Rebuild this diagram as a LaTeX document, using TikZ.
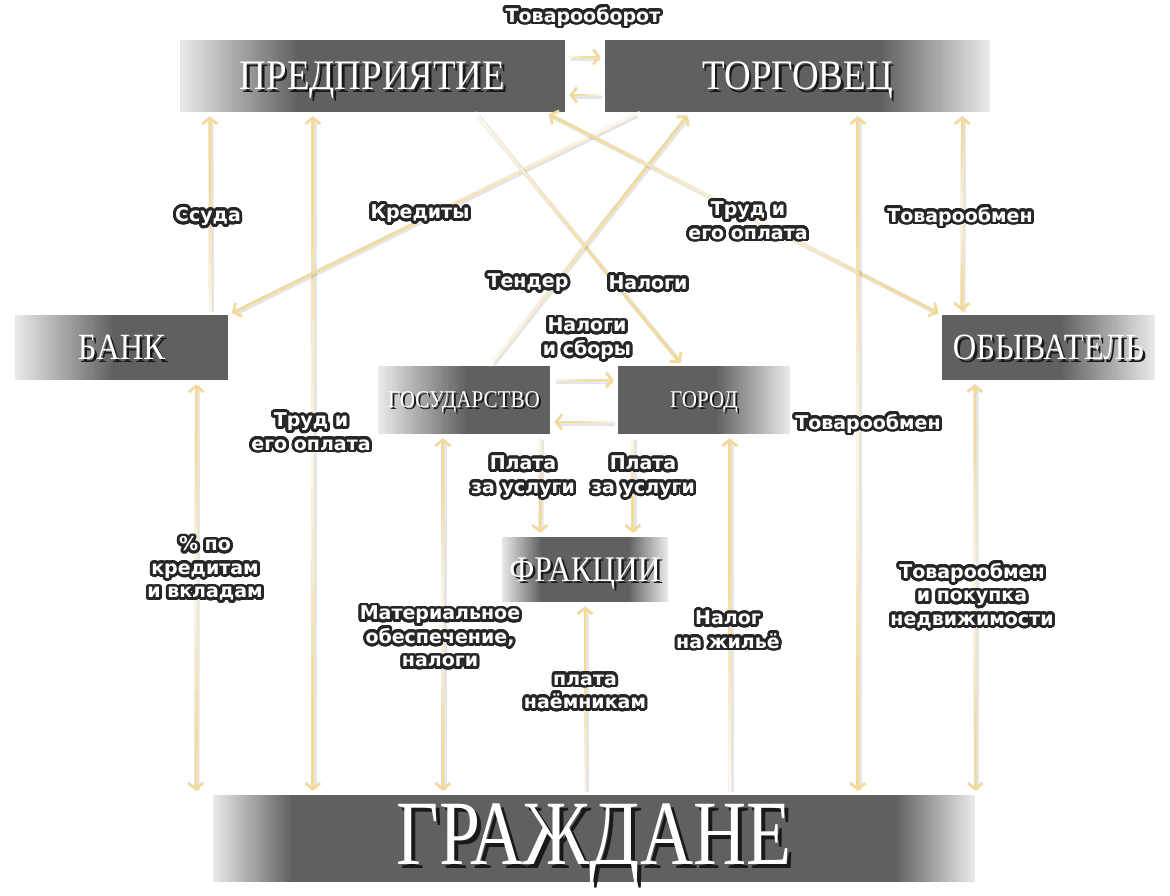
\documentclass[tikz,border=0pt]{standalone}
\usepackage{fontspec}
\usepackage[copies]{contour}
\usetikzlibrary{arrows.meta,calc}
\newfontfamily\unitfont{Liberation Serif}[FakeStretch=0.88]
\newfontfamily\citfont{Liberation Serif}[FakeStretch=0.8]
\newfontfamily\lblfont{DejaVu Sans}
\definecolor{boxgray}{HTML}{606060}
\definecolor{fadegray}{HTML}{E8E8E8}
\definecolor{wheat}{HTML}{F2DA9C}
\definecolor{halo}{HTML}{262626}
\contourlength{2.8pt}
\contournumber{36}
\newcommand\shtext[2][2.5pt]{\leavevmode\rlap{\kern#1\raisebox{-#1}{\textcolor{black!90}{#2}}}#2}
\newcommand\halo[1]{\contour{halo}{#1}}
\tikzset{
  unit/.style={fill=boxgray, inner sep=0pt, text=white, text depth=0pt, font=\unitfont\fontsize{#1}{#1}\selectfont},
  fadel/.style={path picture={
      \foreach \i in {0,...,39} {
        \pgfmathsetmacro\pa{#1*\i/40}
        \pgfmathsetmacro\pb{#1*(\i+1)/40+0.6}
        \pgfmathtruncatemacro\mix{100*\i/39}
        \fill[boxgray!\mix!fadegray] ([xshift=\pa pt]path picture bounding box.south west) rectangle ([xshift=\pb pt]path picture bounding box.north west);
      }}},
  fader/.style={path picture={
      \foreach \i in {0,...,39} {
        \pgfmathsetmacro\pa{-#1*\i/40}
        \pgfmathsetmacro\pb{-#1*(\i+1)/40-0.6}
        \pgfmathtruncatemacro\mix{100*\i/39}
        \fill[boxgray!\mix!fadegray] ([xshift=\pa pt]path picture bounding box.south east) rectangle ([xshift=\pb pt]path picture bounding box.north east);
      }}},
  fadeb/.style={path picture={
      \foreach \i in {0,...,39} {
        \pgfmathsetmacro\pa{#1*\i/40}
        \pgfmathsetmacro\pb{#1*(\i+1)/40+0.6}
        \pgfmathtruncatemacro\mix{100*\i/39}
        \fill[boxgray!\mix!fadegray] ([xshift=\pa pt]path picture bounding box.south west) rectangle ([xshift=\pb pt]path picture bounding box.north west);
        \fill[boxgray!\mix!fadegray] ([xshift=-\pa pt]path picture bounding box.south east) rectangle ([xshift=-\pb pt]path picture bounding box.north east);
      }}},
  flow/.style={draw=wheat, line width=2.8pt, shorten >=4pt, shorten <=4pt},
  flowwhite/.style={draw=white, line width=2.8pt},
  flowshade/.style={draw=black, opacity=0.1, line width=4.5pt, shorten >=6pt, shorten <=4pt, transform canvas={xshift=1.5pt, yshift=-1.5pt}},
  lbl/.style={inner sep=0pt, align=center, text=white, font=\lblfont\bfseries\fontsize{19}{23.5}\selectfont}
}
\begin{document}
\begin{tikzpicture}[x=1pt, y=-1pt, line cap=butt, >={Straight Barb[length=6pt,width=15pt]}]
  \fill[white] (0,0) rectangle (1170,896);
  \useasboundingbox (0,0) rectangle (1170,896);
  \def\flowone#1#2{
    \draw[flowshade] (#1) -- (#2);
    \draw[flow,->] (#1) -- (#2);
    \foreach \k in {0,...,11} {
      \pgfmathsetmacro\op{0.85*(1-\k/12)}
      \draw[flowwhite, opacity=\op] ($(#1)!\k*0.05!(#2)$) -- ($(#1)!\k*0.05+0.05!(#2)$);
    }
  }
  \def\flowtwo#1#2{
    \draw[flowshade] (#1) -- (#2);
    \draw[flow,<->] (#1) -- (#2);
    \foreach \k in {3,...,16} {
      \pgfmathsetmacro\op{max(0,0.8*(1-abs(\k*0.05+0.025-0.5)/0.375))}
      \draw[flowwhite, opacity=\op] ($(#1)!\k*0.05!(#2)$) -- ($(#1)!\k*0.05+0.05!(#2)$);
    }
  }

  % units
  \node[unit=42, minimum width=385pt, minimum height=72pt, fadel=120] (firm) at (372.5,76) {\shtext{ПРЕДПРИЯТИЕ}};
  \node[unit=42, minimum width=385pt, minimum height=72pt, fader=110] (trader) at (797.5,76) {\shtext{ТОРГОВЕЦ}};
  \node[unit=37, minimum width=213pt, minimum height=65pt, fadel=100] (bank) at (121.5,347.5) {\shtext{БАНК}};
  \node[unit=37, minimum width=213pt, minimum height=65pt, fader=95] (dweller) at (1048.5,347.5) {\shtext{ОБЫВАТЕЛЬ}};
  \node[unit=24, minimum width=172pt, minimum height=68pt, fadel=90] (state) at (464,400) {\shtext[2pt]{ГОСУДАРСТВО}};
  \node[unit=24, minimum width=172pt, minimum height=68pt, fader=75] (city) at (704,400) {\shtext[2pt]{ГОРОД}};
  \node[unit=36, minimum width=166pt, minimum height=65pt, fadeb=40] (faction) at (585,569.5) {\shtext{ФРАКЦИИ}};
  \node[fill=boxgray, inner sep=0pt, text=white, text depth=9pt, font=\citfont\fontsize{92}{92}\selectfont,
        minimum width=762pt, minimum height=87pt, fadeb=80] (citizens) at (594,838.5) {\shtext[4pt]{ГРАЖДАНЕ}};

  % flows
  \flowone{[yshift=19pt]firm.east}{[yshift=19pt]trader.west}
  \flowone{[yshift=-19pt]trader.west}{[yshift=-19pt]firm.east}
  \flowone{[xshift=-18pt]bank.north east}{[xshift=30pt]firm.south west}
  \flowtwo{[xshift=133pt]firm.south west}{[xshift=100pt]citizens.north west}
  \flowone{[xshift=35pt]trader.south west}{bank.north east}
  \flowone{[xshift=295pt]firm.south west}{[xshift=65pt]city.north west}
  \flowone{[xshift=112pt]state.north west}{[xshift=85pt]trader.south west}
  \flowtwo{[xshift=-20pt]firm.south east}{dweller.north west}
  \flowtwo{[xshift=20pt]dweller.north west}{[xshift=-28pt]trader.south east}
  \flowtwo{[xshift=253pt]trader.south west}{[xshift=645pt]citizens.north west}
  \flowtwo{[xshift=-32pt]bank.south east}{[xshift=-17pt]citizens.north west}
  \flowtwo{[xshift=65pt]state.south west}{[xshift=230pt]citizens.north west}
  \flowone{[xshift=-9pt]citizens.north}{faction.south}
  \flowone{[xshift=517pt]citizens.north west}{[xshift=112pt]city.south west}
  \flowtwo{[xshift=33pt]dweller.south west}{citizens.north east}
  \flowone{[xshift=-10pt]state.south east}{[xshift=38pt]faction.north west}
  \flowone{[xshift=15pt]city.south west}{[xshift=131pt]faction.north west}
  \flowone{[yshift=20pt]state.east}{[yshift=20pt]city.west}
  \flowone{[yshift=-22pt]city.west}{[yshift=-22pt]state.east}

  % labels
  \node[lbl] (turnover) at (583,18) {\halo{Товарооборот}};
  \node[lbl] (loan) at (208,218) {\halo{Ссуда}};
  \node[lbl] (credits) at (420,215) {\halo{Кредиты}};
  \node[lbl] (labourb) at (748,222) {\halo{Труд и}\\\halo{его оплата}};
  \node[lbl] (barterb) at (960,218) {\halo{Товарообмен}};
  \node[lbl] (tender) at (528,284) {\halo{Тендер}};
  \node[lbl] (taxes) at (648,284) {\halo{Налоги}};
  \node[lbl] (levies) at (587,340) {\halo{Налоги}\\\halo{и сборы}};
  \node[lbl] (laboura) at (311,433) {\halo{Труд и}\\\halo{его оплата}};
  \node[lbl] (bartera) at (868,425) {\halo{Товарообмен}};
  \node[lbl] (servicea) at (523,478) {\halo{Плата}\\\halo{за услуги}};
  \node[lbl] (serviceb) at (643,478) {\halo{Плата}\\\halo{за услуги}};
  \node[lbl] (interest) at (205,570) {\halo{\% по}\\\halo{кредитам}\\\halo{и вкладам}};
  \node[lbl] (supply) at (440,638) {\halo{Материальное}\\\halo{обеспечение,}\\\halo{налоги}};
  \node[lbl] (housing) at (728,631) {\halo{Налог}\\\halo{на жильё}};
  \node[lbl] (estate) at (972,597) {\halo{Товарообмен}\\\halo{и покупка}\\\halo{недвижимости}};
  \node[lbl] (mercs) at (585,693) {\halo{плата}\\\halo{наёмникам}};
\end{tikzpicture}
\end{document}
